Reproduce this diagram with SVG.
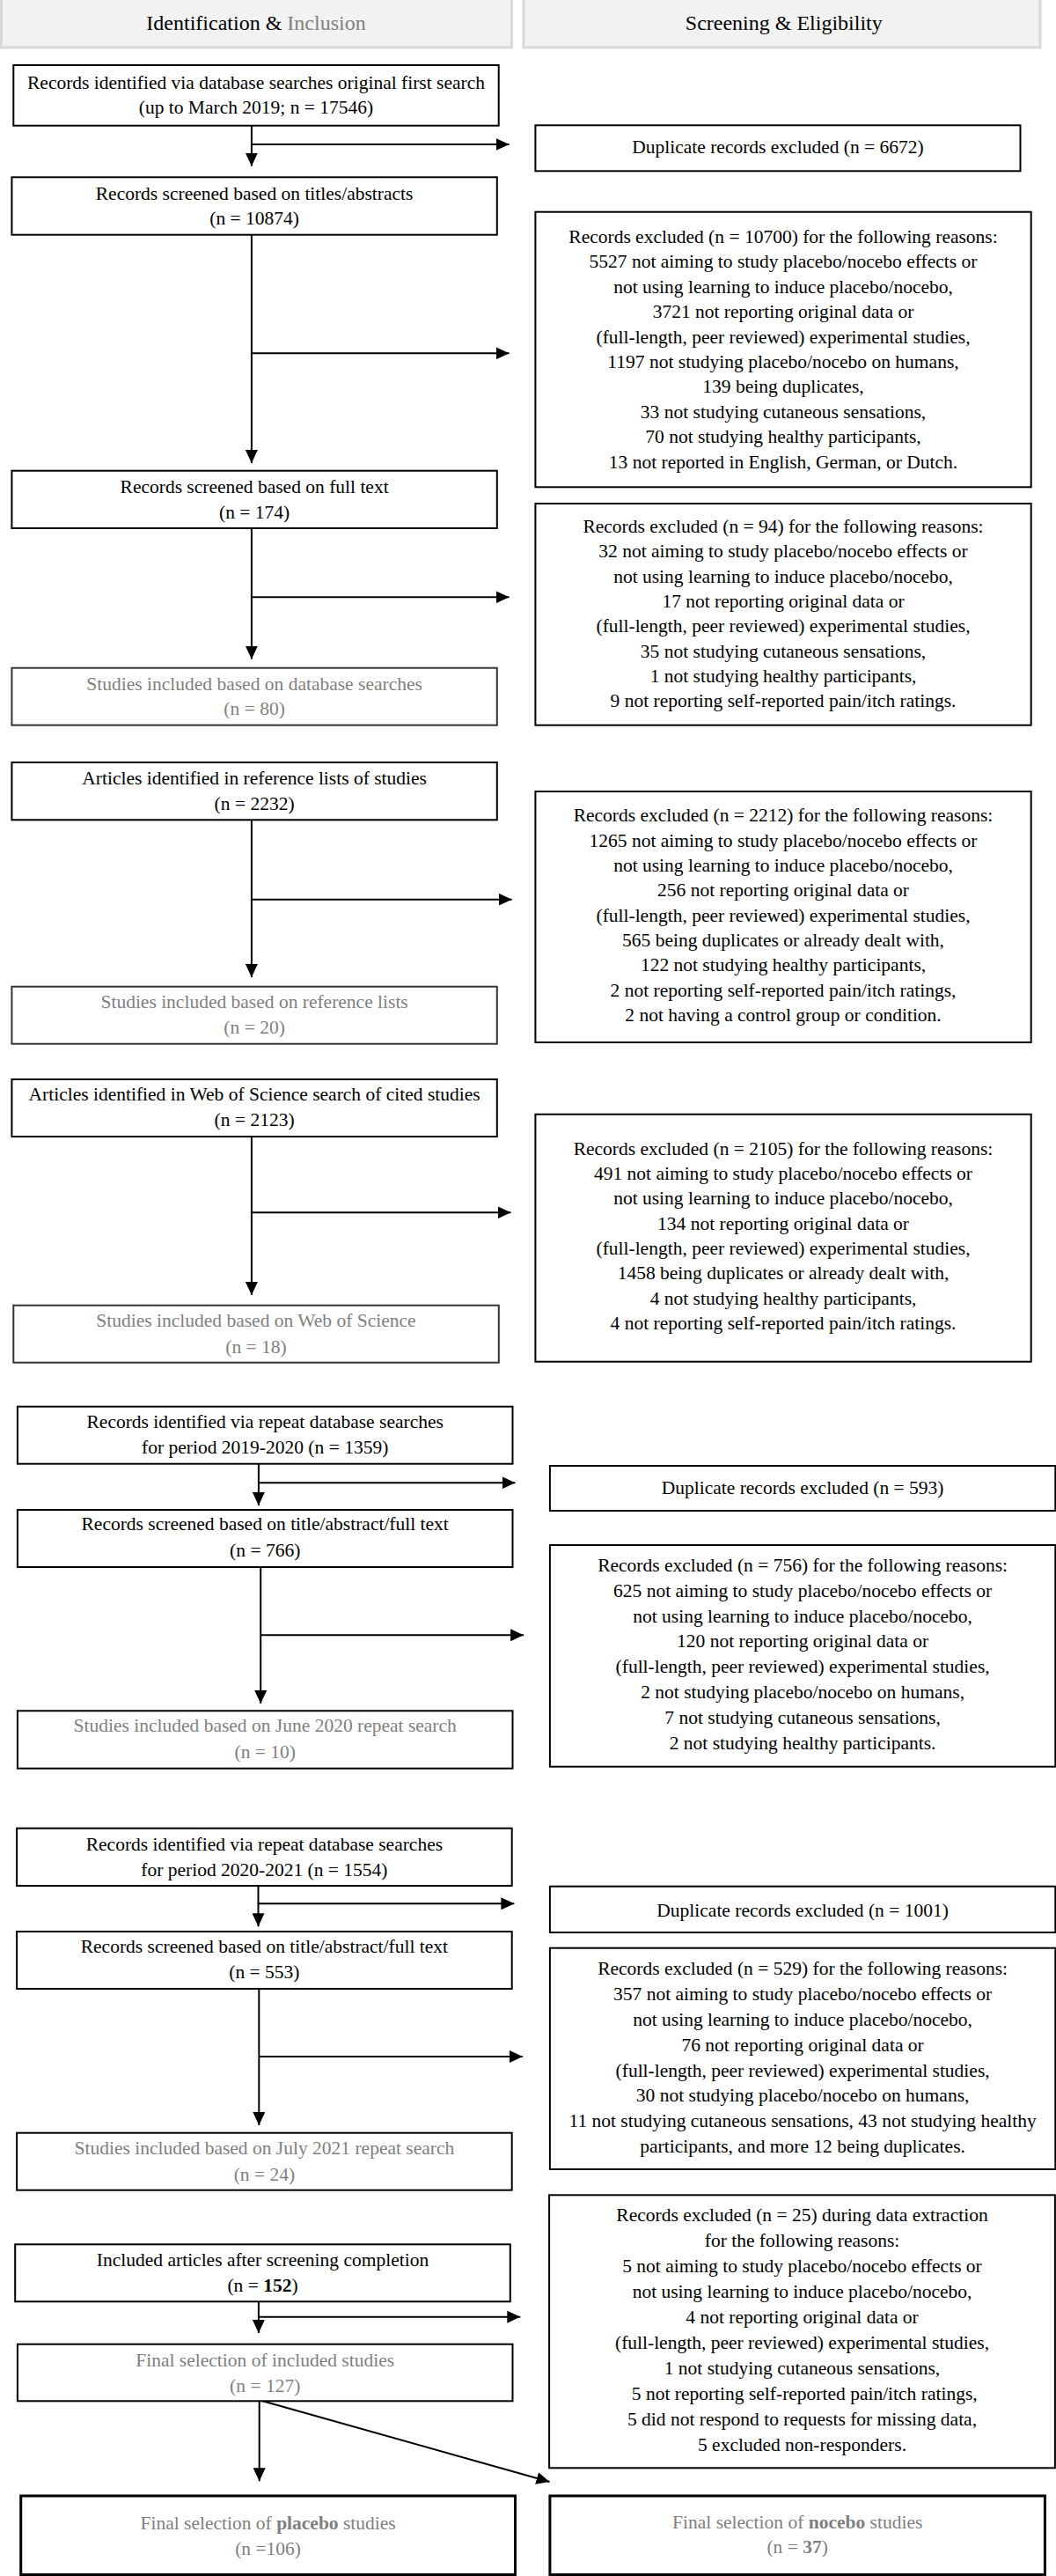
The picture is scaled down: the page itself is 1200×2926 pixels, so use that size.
<svg xmlns="http://www.w3.org/2000/svg" width="1200" height="2926" viewBox="0 0 1200 2926">
<style>
text{font-family:"Liberation Serif","Times New Roman",serif;font-size:21.5px;text-anchor:middle;fill:#000}
.g{fill:#7f7f7f}
.h{font-size:24px}
.b{font-weight:bold}
.box{fill:#fff;stroke:#000;stroke-width:2}
.gbox{fill:#fff;stroke:#333;stroke-width:2}
.fbox{fill:#fff;stroke:#000;stroke-width:3}
.hdr{fill:#f2f2f2;stroke:#d9d9d9;stroke-width:3}
.conn line{stroke:#000;stroke-width:2;fill:none}
</style>
<defs>
<marker id="ah" markerUnits="userSpaceOnUse" markerWidth="15" markerHeight="14" refX="15" refY="7" orient="auto">
<path d="M0,0 L15,7 L0,14 z" fill="#000"/>
</marker>
</defs>
<rect width="1200" height="2926" fill="#fff"/>

<g id="header-left">
<rect class="hdr" x="1.5" y="-2" width="580" height="56"/>
<text class="h" x="291" y="33.5">Identification &amp; <tspan fill="#808080">Inclusion</tspan></text>
</g>
<g id="header-right">
<rect class="hdr" x="595" y="-2" width="587" height="56"/>
<text class="h" x="890.8" y="33.5">Screening &amp; Eligibility</text>
</g>

<g class="conn" id="connectors">
<line x1="285.9" y1="142.7" x2="285.9" y2="188.7" marker-end="url(#ah)"/>
<line x1="285.9" y1="164" x2="578.6" y2="164" marker-end="url(#ah)"/>
<line x1="285.9" y1="266.7" x2="285.9" y2="526" marker-end="url(#ah)"/>
<line x1="285.9" y1="401.3" x2="578.6" y2="401.3" marker-end="url(#ah)"/>
<line x1="285.9" y1="600" x2="285.9" y2="748.7" marker-end="url(#ah)"/>
<line x1="285.9" y1="678.3" x2="578.6" y2="678.3" marker-end="url(#ah)"/>
<line x1="285.9" y1="931.3" x2="285.9" y2="1110" marker-end="url(#ah)"/>
<line x1="285.9" y1="1021.7" x2="581.7" y2="1021.7" marker-end="url(#ah)"/>
<line x1="285.9" y1="1291" x2="285.9" y2="1471" marker-end="url(#ah)"/>
<line x1="285.9" y1="1377.3" x2="580.5" y2="1377.3" marker-end="url(#ah)"/>
<line x1="293.9" y1="1662.7" x2="293.9" y2="1710" marker-end="url(#ah)"/>
<line x1="293.9" y1="1684.3" x2="585.5" y2="1684.3" marker-end="url(#ah)"/>
<line x1="296.2" y1="1780" x2="296.2" y2="1935" marker-end="url(#ah)"/>
<line x1="296.2" y1="1857.3" x2="595.1" y2="1857.3" marker-end="url(#ah)"/>
<line x1="293.5" y1="2142" x2="293.5" y2="2188.3" marker-end="url(#ah)"/>
<line x1="292.7" y1="2162.3" x2="584.4" y2="2162.3" marker-end="url(#ah)"/>
<line x1="294.3" y1="2259" x2="294.3" y2="2414" marker-end="url(#ah)"/>
<line x1="294.3" y1="2336" x2="594" y2="2336" marker-end="url(#ah)"/>
<line x1="293.9" y1="2610" x2="293.9" y2="2650" marker-end="url(#ah)"/>
<line x1="293.9" y1="2631.7" x2="591.3" y2="2631.7" marker-end="url(#ah)"/>
<line x1="294.7" y1="2727.3" x2="294.7" y2="2818.3" marker-end="url(#ah)"/>
<line x1="298.5" y1="2727.3" x2="624.5" y2="2819" marker-end="url(#ah)"/>
</g>

<g id="n-identified">
<rect class="box" x="15.3" y="74" width="551.4" height="68.7"/>
<text x="291" y="100.7">Records identified via database searches original first search</text>
<text x="291" y="129.3">(up to March 2019; n = 17546)</text>
</g>
<g id="n-screened-titles">
<rect class="box" x="13.4" y="201.3" width="551.4" height="65.4"/>
<text x="289.1" y="226.7">Records screened based on titles/abstracts</text>
<text x="289.1" y="255">(n = 10874)</text>
</g>
<g id="n-screened-full">
<rect class="box" x="13.4" y="534.7" width="551.4" height="65.3"/>
<text x="289.1" y="560">Records screened based on full text</text>
<text x="289.1" y="588.7">(n = 174)</text>
</g>
<g id="n-included-db">
<rect class="gbox" x="13.4" y="758.7" width="551.4" height="65"/>
<text class="g" x="289.1" y="784">Studies included based on database searches</text>
<text class="g" x="289.1" y="812.3">(n = 80)</text>
</g>
<g id="n-reflists">
<rect class="box" x="13.4" y="866" width="551.4" height="65.3"/>
<text x="289.1" y="891">Articles identified in reference lists of studies</text>
<text x="289.1" y="920">(n = 2232)</text>
</g>
<g id="n-included-ref">
<rect class="gbox" x="13.4" y="1120.7" width="551.4" height="65"/>
<text class="g" x="289.1" y="1145">Studies included based on reference lists</text>
<text class="g" x="289.1" y="1174">(n = 20)</text>
</g>
<g id="n-wos">
<rect class="box" x="13.4" y="1226" width="551.4" height="65"/>
<text x="289.1" y="1250">Articles identified in Web of Science search of cited studies</text>
<text x="289.1" y="1279.3">(n = 2123)</text>
</g>
<g id="n-included-wos">
<rect class="gbox" x="15.3" y="1482.7" width="551.5" height="65"/>
<text class="g" x="291" y="1506.7">Studies included based on Web of Science</text>
<text class="g" x="291" y="1536.7">(n = 18)</text>
</g>
<g id="n-repeat-2020">
<rect class="box" x="19.9" y="1597.7" width="562.6" height="65"/>
<text x="301.2" y="1621.7">Records identified via repeat database searches</text>
<text x="301.2" y="1651">for period 2019-2020 (n = 1359)</text>
</g>
<g id="n-screened-2020">
<rect class="box" x="19.9" y="1715" width="562.6" height="65"/>
<text x="301.2" y="1738.3">Records screened based on title/abstract/full text</text>
<text x="301.2" y="1767.7">(n = 766)</text>
</g>
<g id="n-included-2020">
<rect class="box" x="19.9" y="1943.3" width="562.6" height="65.4"/>
<text class="g" x="301.2" y="1966.5">Studies included based on June 2020 repeat search</text>
<text class="g" x="301.2" y="1996.7">(n = 10)</text>
</g>
<g id="n-repeat-2021">
<rect class="box" x="19.1" y="2076.7" width="562.6" height="65.3"/>
<text x="300.4" y="2101.7">Records identified via repeat database searches</text>
<text x="300.4" y="2130.7">for period 2020-2021 (n = 1554)</text>
</g>
<g id="n-screened-2021">
<rect class="box" x="19.1" y="2194" width="562.6" height="65"/>
<text x="300.4" y="2218.3">Records screened based on title/abstract/full text</text>
<text x="300.4" y="2247.3">(n = 553)</text>
</g>
<g id="n-included-2021">
<rect class="box" x="19.1" y="2422.7" width="562.6" height="65"/>
<text class="g" x="300.4" y="2447.3">Studies included based on July 2021 repeat search</text>
<text class="g" x="300.4" y="2476.7">(n = 24)</text>
</g>
<g id="n-included-articles">
<rect class="box" x="17.2" y="2549.3" width="562.6" height="65"/>
<text x="298.5" y="2574">Included articles after screening completion</text>
<text x="298.5" y="2602.7">(n = <tspan class="b">152</tspan>)</text>
</g>
<g id="n-final">
<rect class="box" x="19.9" y="2662.7" width="562.6" height="64.6"/>
<text class="g" x="301.2" y="2687.7">Final selection of included studies</text>
<text class="g" x="301.2" y="2716.7">(n = 127)</text>
</g>
<g id="n-placebo">
<rect class="fbox" x="23.7" y="2835" width="561.8" height="89.5"/>
<text class="g" x="304.6" y="2872.7">Final selection of <tspan class="b">placebo</tspan> studies</text>
<text class="g" x="304.6" y="2901.7">(n =106)</text>
</g>

<g id="x-dup-6672">
<rect class="box" x="608.4" y="142.3" width="551.1" height="52"/>
<text x="884" y="174.3">Duplicate records excluded (n = 6672)</text>
</g>
<g id="x-10700">
<rect class="box" x="608.4" y="240.7" width="563.3" height="312.6"/>
<text x="890" y="276">Records excluded (n = 10700) for the following reasons:</text>
<text x="890" y="304.4">5527 not aiming to study placebo/nocebo effects or</text>
<text x="890" y="332.8">not using learning to induce placebo/nocebo,</text>
<text x="890" y="361.2">3721 not reporting original data or</text>
<text x="890" y="389.6">(full-length, peer reviewed) experimental studies,</text>
<text x="890" y="418">1197 not studying placebo/nocebo on humans,</text>
<text x="890" y="446.4">139 being duplicates,</text>
<text x="890" y="474.8">33 not studying cutaneous sensations,</text>
<text x="890" y="503.2">70 not studying healthy participants,</text>
<text x="890" y="531.6">13 not reported in English, German, or Dutch.</text>
</g>
<g id="x-94">
<rect class="box" x="608.4" y="572" width="563.3" height="251.7"/>
<text x="890" y="605">Records excluded (n = 94) for the following reasons:</text>
<text x="890" y="633.3">32 not aiming to study placebo/nocebo effects or</text>
<text x="890" y="661.7">not using learning to induce placebo/nocebo,</text>
<text x="890" y="690">17 not reporting original data or</text>
<text x="890" y="718.3">(full-length, peer reviewed) experimental studies,</text>
<text x="890" y="746.7">35 not studying cutaneous sensations,</text>
<text x="890" y="775">1 not studying healthy participants,</text>
<text x="890" y="803.3">9 not reporting self-reported pain/itch ratings.</text>
</g>
<g id="x-2212">
<rect class="box" x="608.4" y="899" width="563.3" height="285"/>
<text x="890" y="933.3">Records excluded (n = 2212) for the following reasons:</text>
<text x="890" y="961.7">1265 not aiming to study placebo/nocebo effects or</text>
<text x="890" y="990">not using learning to induce placebo/nocebo,</text>
<text x="890" y="1018.3">256 not reporting original data or</text>
<text x="890" y="1046.7">(full-length, peer reviewed) experimental studies,</text>
<text x="890" y="1075">565 being duplicates or already dealt with,</text>
<text x="890" y="1103.3">122 not studying healthy participants,</text>
<text x="890" y="1131.7">2 not reporting self-reported pain/itch ratings,</text>
<text x="890" y="1160">2 not having a control group or condition.</text>
</g>
<g id="x-2105">
<rect class="box" x="608.4" y="1265.7" width="563.3" height="281"/>
<text x="890" y="1311.7">Records excluded (n = 2105) for the following reasons:</text>
<text x="890" y="1340">491 not aiming to study placebo/nocebo effects or</text>
<text x="890" y="1368.3">not using learning to induce placebo/nocebo,</text>
<text x="890" y="1396.7">134 not reporting original data or</text>
<text x="890" y="1425">(full-length, peer reviewed) experimental studies,</text>
<text x="890" y="1453.3">1458 being duplicates or already dealt with,</text>
<text x="890" y="1481.7">4 not studying healthy participants,</text>
<text x="890" y="1510">4 not reporting self-reported pain/itch ratings.</text>
</g>
<g id="x-dup-593">
<rect class="box" x="624.9" y="1665" width="574.4" height="51"/>
<text x="912.1" y="1696.7">Duplicate records excluded (n = 593)</text>
</g>
<g id="x-756">
<rect class="box" x="624.9" y="1755" width="574.4" height="251.7"/>
<text x="912.1" y="1785">Records excluded (n = 756) for the following reasons:</text>
<text x="912.1" y="1813.8">625 not aiming to study placebo/nocebo effects or</text>
<text x="912.1" y="1842.6">not using learning to induce placebo/nocebo,</text>
<text x="912.1" y="1871.4">120 not reporting original data or</text>
<text x="912.1" y="1900.2">(full-length, peer reviewed) experimental studies,</text>
<text x="912.1" y="1929">2 not studying placebo/nocebo on humans,</text>
<text x="912.1" y="1957.8">7 not studying cutaneous sensations,</text>
<text x="912.1" y="1986.6">2 not studying healthy participants.</text>
</g>
<g id="x-dup-1001">
<rect class="box" x="624.9" y="2142.7" width="574.4" height="52.3"/>
<text x="912.1" y="2176.7">Duplicate records excluded (n = 1001)</text>
</g>
<g id="x-529">
<rect class="box" x="624.9" y="2212.7" width="574.4" height="251.3"/>
<text x="912.1" y="2243.3">Records excluded (n = 529) for the following reasons:</text>
<text x="912.1" y="2272.1">357 not aiming to study placebo/nocebo effects or</text>
<text x="912.1" y="2300.9">not using learning to induce placebo/nocebo,</text>
<text x="912.1" y="2329.7">76 not reporting original data or</text>
<text x="912.1" y="2358.5">(full-length, peer reviewed) experimental studies,</text>
<text x="912.1" y="2387.3">30 not studying placebo/nocebo on humans,</text>
<text x="912.1" y="2416.1">11 not studying cutaneous sensations, 43 not studying healthy</text>
<text x="912.1" y="2444.9">participants, and more 12 being duplicates.</text>
</g>
<g id="x-25">
<rect class="box" x="624.1" y="2493.3" width="574.8" height="310"/>
<text x="911.5" y="2523.3">Records excluded (n = 25) during data extraction</text>
<text x="911.5" y="2552.3">for the following reasons:</text>
<text x="911.5" y="2581.3">5 not aiming to study placebo/nocebo effects or</text>
<text x="911.5" y="2610.3">not using learning to induce placebo/nocebo,</text>
<text x="911.5" y="2639.3">4 not reporting original data or</text>
<text x="911.5" y="2668.3">(full-length, peer reviewed) experimental studies,</text>
<text x="911.5" y="2697.3">1 not studying cutaneous sensations,</text>
<text x="914.2" y="2726.3">5 not reporting self-reported pain/itch ratings,</text>
<text x="911.5" y="2755.3">5 did not respond to requests for missing data,</text>
<text x="911.5" y="2784.3">5 excluded non-responders.</text>
</g>
<g id="n-nocebo">
<rect class="fbox" x="624.9" y="2835" width="562.5" height="89.5"/>
<text class="g" x="906.2" y="2871.7">Final selection of <tspan class="b">nocebo</tspan> studies</text>
<text class="g" x="906.2" y="2900">(n = <tspan class="b">37</tspan>)</text>
</g>
</svg>
